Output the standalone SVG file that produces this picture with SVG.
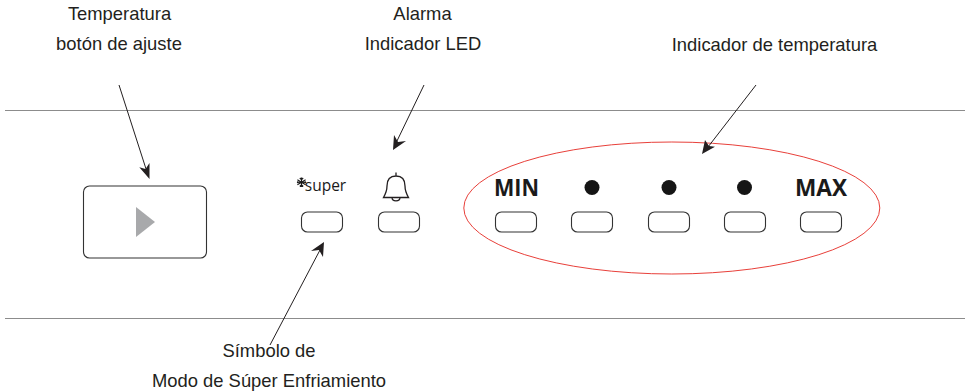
<svg xmlns="http://www.w3.org/2000/svg" width="970" height="392" viewBox="0 0 970 392">
<style>
.lbl{font-family:"Liberation Sans",Arial,sans-serif;font-size:18.400px;fill:#231f20;text-anchor:middle}
.big{font-family:"Open Sans","Noto Sans",sans-serif;font-weight:700;font-size:24px;fill:#1a1a1a}
.btn{fill:#fff;stroke:#333;stroke-width:1.100}
.rule{stroke:#8c8c8c;stroke-width:1}
.conn{stroke:#231f20;stroke-width:1;fill:none}
.head{fill:#231f20}
</style>
<rect width="970" height="392" fill="#fff"/>
<g id="rules"><line class="rule" x1="5" y1="110.500" x2="965" y2="110.500"/><line class="rule" x1="5" y1="318.500" x2="965" y2="318.500"/></g>
<g id="adjust-button"><rect class="btn" x="83.500" y="186" width="123" height="72" rx="6"/><polygon points="136,207 155,222 136,237" fill="#a8a9ab"/></g>
<g id="super"><path d="M301.500 177.500V187M297.400 179.700L305.600 184.800M297.400 184.800L305.600 179.700M299.800 178L301.500 179.800L303.200 178M299.800 186.500L301.500 184.700L303.200 186.500M297 181.700L299 182.250L297 182.800M306 181.700L304 182.250L306 182.800" fill="none" stroke="#1a1a1a" stroke-width="1.100"/><text x="325.500" y="191" font-family="'Open Sans','Noto Sans',sans-serif" font-size="15.500" fill="#1a1a1a" text-anchor="middle">super</text><rect class="btn" x="301.500" y="212" width="41" height="20" rx="6"/></g>
<g id="alarm"><path d="M396 172.500V176M396 176C390 176 387 180 387 186C387 191 385.500 194 383.500 197.500H408.500C406.500 194 405 191 405 186C405 180 402 176 396 176ZM392 197.500C392 202 400 202 400 197.500" fill="none" stroke="#231f20" stroke-width="1.300"/><rect class="btn" x="378.500" y="212" width="41" height="20" rx="6"/></g>
<g id="indicator"><ellipse cx="671.800" cy="208" rx="208" ry="66" fill="none" stroke="#e8403a" stroke-width="1"/>
<text class="big" x="494" y="196" textLength="45" lengthAdjust="spacingAndGlyphs">MIN</text><circle cx="592" cy="187.500" r="7.500" fill="#151515"/><circle cx="669" cy="187.500" r="7.500" fill="#151515"/><circle cx="744.500" cy="187.500" r="7.500" fill="#151515"/><text class="big" x="795" y="196" textLength="52" lengthAdjust="spacingAndGlyphs">MAX</text>
<rect class="btn" x="495.500" y="212" width="41" height="20" rx="6"/><rect class="btn" x="571.500" y="212" width="41" height="20" rx="6"/><rect class="btn" x="648.500" y="212" width="41" height="20" rx="6"/><rect class="btn" x="724.500" y="212" width="41" height="20" rx="6"/><rect class="btn" x="800.500" y="212" width="41" height="20" rx="6"/></g>
<g id="labels">
<text class="lbl" x="119.500" y="20">Temperatura</text><text class="lbl" x="119" y="50">botón de ajuste</text>
<text class="lbl" x="422.500" y="20">Alarma</text><text class="lbl" x="423" y="50">Indicador LED</text>
<text class="lbl" x="774.500" y="51">Indicador de temperatura</text>
<text class="lbl" x="269" y="357">Símbolo de</text><text class="lbl" x="269" y="387">Modo de Súper Enfriamiento</text>
</g>
<g id="connectors">
<line class="conn" x1="119" y1="85" x2="147" y2="172"/><polygon class="head" points="149.500,179 139.300,167.300 145.500,169 149.500,163"/>
<line class="conn" x1="424" y1="85" x2="396" y2="143"/><polygon class="head" points="393,150 394,135 398,142 406,141"/>
<line class="conn" x1="756" y1="85" x2="708" y2="147"/><polygon class="head" points="702,154 705,140 709,146 715,146.700"/>
<line class="conn" x1="270" y1="345" x2="320" y2="250"/><polygon class="head" points="324,242 323,257 319,250 311,251"/>
</g>
</svg>
